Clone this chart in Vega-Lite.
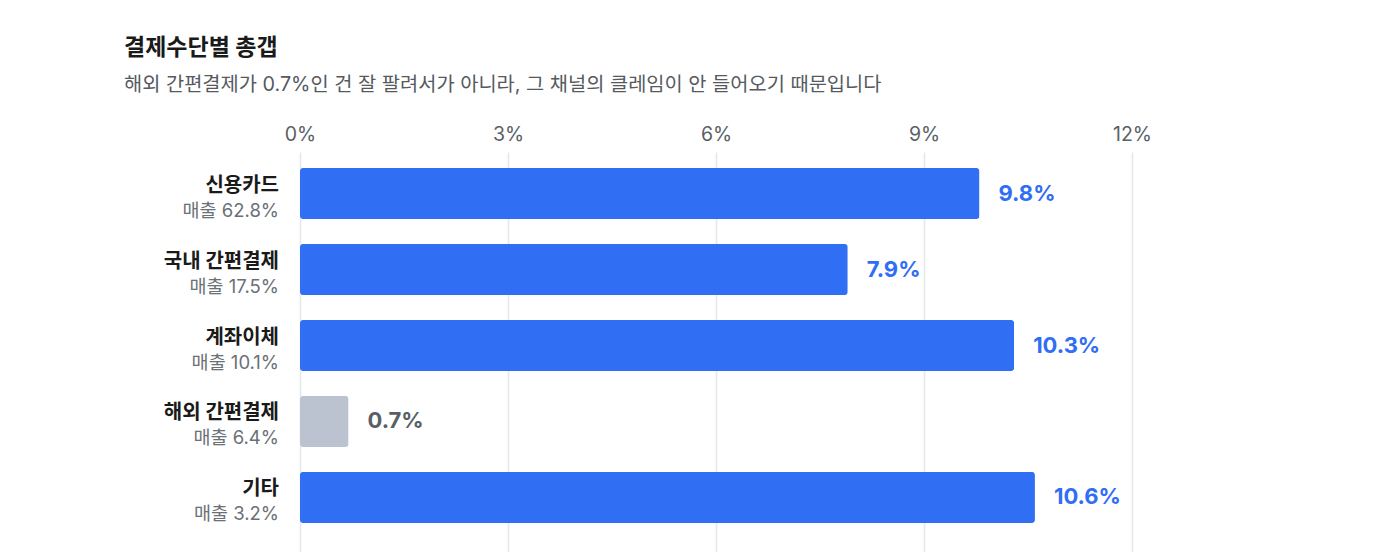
{
  "$schema": "https://vega.github.io/schema/vega-lite/v6.json",
  "width": 832,
  "height": 400,
  "autosize": "none",
  "padding": {"left": 300, "top": 152, "right": 268, "bottom": 0},
  "background": "white",
  "config": {
    "font": "Inter, 'Noto Sans CJK KR'",
    "view": {"stroke": null}
  },
  "title": {
    "text": "결제수단별 총갭",
    "subtitle": "해외 간편결제가 0.7%인 건 잘 팔려서가 아니라, 그 채널의 클레임이 안 들어오기 때문입니다",
    "anchor": "start",
    "frame": "group",
    "dx": -176,
    "fontSize": 23,
    "fontWeight": "bold",
    "color": "#1a1a1a",
    "subtitleFontSize": 19.8,
    "subtitleColor": "#555a60",
    "subtitlePadding": 15,
    "offset": 29
  },
  "data": {
    "values": [
      {"channel": "신용카드", "sales": "매출 62.8%", "gap": 0.098},
      {"channel": "국내 간편결제", "sales": "매출 17.5%", "gap": 0.079},
      {"channel": "계좌이체", "sales": "매출 10.1%", "gap": 0.103},
      {"channel": "해외 간편결제", "sales": "매출 6.4%", "gap": 0.007},
      {"channel": "기타", "sales": "매출 3.2%", "gap": 0.106}
    ]
  },
  "encoding": {
    "y": {
      "field": "channel",
      "type": "nominal",
      "sort": null,
      "scale": {"paddingInner": 0.329, "paddingOuter": 0.297, "align": 0.356},
      "axis": null
    }
  },
  "layer": [
    {
      "mark": {"type": "bar", "cornerRadius": 3},
      "encoding": {
        "x": {
          "field": "gap",
          "type": "quantitative",
          "scale": {"domain": [0, 0.12]},
          "axis": {
            "orient": "top",
            "values": [0, 0.03, 0.06, 0.09, 0.12],
            "format": ".0%",
            "title": null,
            "domain": false,
            "ticks": false,
            "labelFlush": false,
            "labelPadding": 8,
            "labelFontSize": 19.5,
            "labelColor": "#5a5f66",
            "gridColor": "#e3e6ea",
            "gridWidth": 1.5
          }
        },
        "color": {
          "condition": {"test": "datum.channel === '해외 간편결제'", "value": "#bac3cf"},
          "value": "#306ef4"
        }
      }
    },
    {
      "mark": {"type": "text", "align": "left", "baseline": "middle", "dx": 19, "fontSize": 22, "fontWeight": "bold"},
      "encoding": {
        "x": {"field": "gap", "type": "quantitative"},
        "text": {"field": "gap", "type": "quantitative", "format": ".1%"},
        "color": {
          "condition": {"test": "datum.channel === '해외 간편결제'", "value": "#5a5f66"},
          "value": "#306ef4"
        }
      }
    },
    {
      "mark": {"type": "text", "align": "right", "baseline": "middle", "dx": -21, "dy": -8, "fontSize": 20, "fontWeight": "bold", "color": "#1a1a1a"},
      "encoding": {
        "x": {"datum": 0, "type": "quantitative"},
        "text": {"field": "channel"}
      }
    },
    {
      "mark": {"type": "text", "align": "right", "baseline": "middle", "dx": -21, "dy": 17, "fontSize": 18.5, "color": "#6b7077"},
      "encoding": {
        "x": {"datum": 0, "type": "quantitative"},
        "text": {"field": "sales"}
      }
    }
  ]
}
